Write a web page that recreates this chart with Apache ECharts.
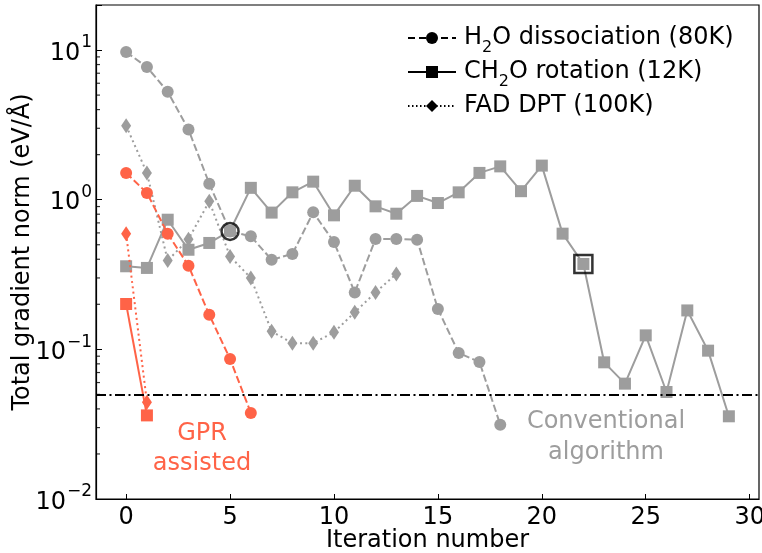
<!DOCTYPE html>
<html>
<head>
<meta charset="utf-8">
<script src="https://cdn.jsdelivr.net/npm/echarts@6/dist/echarts.min.js"></script>
<style>
  html, body { margin: 0; padding: 0; background: #fff; }
  #chart { width: 762px; height: 553px; }
</style>
</head>
<body>
<div id="chart"></div>
<script>
  // values, index = iteration number
  var h2oConv = [9.7, 7.7, 5.27, 2.94, 1.28, 0.614, 0.569, 0.397, 0.434, 0.823, 0.521, 0.24, 0.546, 0.546, 0.54, 0.186, 0.0946, 0.0824, 0.0314];
  var ch2oConv = [0.359, 0.35, 0.735, 0.463, 0.514, 0.62, 1.2, 0.82, 1.12, 1.32, 0.786, 1.24, 0.903, 0.806, 1.06, 0.95, 1.12, 1.51, 1.67, 1.14, 1.69, 0.593, 0.372, 0.0819, 0.059, 0.124, 0.0519, 0.182, 0.098, 0.0357];
  var fadConv = [3.12, 1.51, 0.392, 0.545, 0.975, 0.418, 0.30, 0.132, 0.110, 0.110, 0.130, 0.177, 0.24, 0.319];
  var h2oGpr = [1.51, 1.11, 0.593, 0.362, 0.17, 0.0863, 0.0376];
  var ch2oGpr = [0.201, 0.0362];
  var fadGpr = [0.593, 0.0443];
  var threshold = 0.05;
  var markedH2o = 5;    // iteration ringed on the H2O curve
  var markedCh2o = 22;  // iteration boxed on the CH2O curve

  var xTicks = [0, 5, 10, 15, 20, 25, 30];
  var yTicks = [0.01, 0.1, 1, 10];
  var yMinor = [0.02, 0.03, 0.04, 0.05, 0.06, 0.07, 0.08, 0.09,
                0.2, 0.3, 0.4, 0.5, 0.6, 0.7, 0.8, 0.9,
                2, 3, 4, 5, 6, 7, 8, 9];

  var legendNames = ['H2O dissociation (80K)', 'CH2O rotation (12K)', 'FAD DPT (100K)'];
  var legendRich = ['H{sub|2}O dissociation (80K)', 'CH{sub|2}O rotation (12K)', 'FAD DPT (100K)'];

  var X_MIN = -1.45, X_MAX = 30.45;
  var GRAY = '#9d9d9d';
  var RED = '#ff6347';
  var FONT = 'DejaVu Sans';
  var DASH = [7.4, 3.2];
  var DOT = [2, 3.3];

  function pairs(arr) {
    return arr.map(function (v, i) { return [i, v]; });
  }

  function curve(arr, color, symbol, size, type) {
    return {
      type: 'line',
      data: pairs(arr),
      symbol: symbol,
      symbolSize: size,
      color: color,
      lineStyle: { color: color, width: 2, type: type },
      itemStyle: { color: color },
      silent: true,
      z: color === RED ? 4 : 3
    };
  }

  function legendSeries(name, symbol, type) {
    return {
      type: 'line',
      name: name,
      data: [],
      symbol: symbol,
      color: '#000',
      lineStyle: { color: '#000', width: 1.5, type: type },
      itemStyle: { color: '#000' }
    };
  }

  var chart = echarts.init(document.getElementById('chart'), null, { renderer: 'canvas' });

  var option = {
    animation: false,
    textStyle: { fontFamily: FONT },
    grid: {
      left: 96, right: 3, top: 5, bottom: 54,
      containLabel: false, outerBoundsMode: 'none',
      show: true, borderColor: '#000', borderWidth: 1.2
    },
    legend: {
      data: legendNames,
      orient: 'vertical',
      left: 407,
      top: 24,
      padding: 0,
      itemWidth: 48,
      itemHeight: 15,
      itemGap: 2,
      formatter: function (name) { return legendRich[legendNames.indexOf(name)]; },
      textStyle: {
        fontFamily: FONT, fontSize: 24, color: '#000', lineHeight: 28, padding: [0, 0, 0, 3],
        rich: {
          sub: { fontFamily: FONT, fontSize: 16, lineHeight: 18, verticalAlign: 'bottom', padding: [0, 0, -4, 0] }
        }
      }
    },
    xAxis: {
      type: 'value',
      min: X_MIN,
      max: X_MAX,
      name: 'Iteration number',
      nameLocation: 'middle',
      nameGap: 30,
      nameMoveOverlap: false,
      nameTextStyle: { fontFamily: FONT, fontSize: 24, color: '#000' },
      axisLine: { onZero: false, lineStyle: { color: '#000', width: 1.2 } },
      axisTick: { inside: true, length: 5, lineStyle: { color: '#000' }, customValues: xTicks },
      axisLabel: { fontFamily: FONT, fontSize: 24, color: '#000', margin: 7, customValues: xTicks },
      splitLine: { show: false }
    },
    yAxis: {
      type: 'log',
      logBase: 10,
      min: 0.01,
      max: 20,
      name: 'Total gradient norm (eV/Å)',
      nameLocation: 'middle',
      nameGap: 61,
      nameMoveOverlap: false,
      nameTextStyle: { fontFamily: FONT, fontSize: 24, color: '#000' },
      axisLine: { onZero: false, lineStyle: { color: '#000', width: 1.2 } },
      axisTick: { inside: true, length: 6, lineStyle: { color: '#000' } },
      axisLabel: {
        customValues: yTicks,
        margin: 4,
        formatter: function (v) {
          var e = Math.round(Math.log10(v));
          return '{b|10}{s|' + (e < 0 ? '\u2212' + (-e) : e) + '}';
        },
        rich: {
          b: { fontFamily: FONT, fontSize: 24, color: '#000', lineHeight: 31, verticalAlign: 'bottom' },
          s: { fontFamily: FONT, fontSize: 17, color: '#000', lineHeight: 17, verticalAlign: 'top', padding: [0, 0, 0, 1] }
        }
      },
      splitLine: { show: false }
    },
    graphic: [
      {
        type: 'text', x: 202, y: 449,
        style: { text: 'GPR\nassisted', fill: RED, font: '24px "DejaVu Sans"', align: 'center', verticalAlign: 'middle', lineHeight: 30 }
      },
      {
        type: 'text', x: 606, y: 437,
        style: { text: 'Conventional\nalgorithm', fill: GRAY, font: '24px "DejaVu Sans"', align: 'center', verticalAlign: 'middle', lineHeight: 31 }
      }
    ],
    series: [
      curve(h2oConv, GRAY, 'circle', 12, DASH),
      curve(ch2oConv, GRAY, 'rect', 12, 'solid'),
      curve(fadConv, GRAY, 'diamond', [10, 15], DOT),
      curve(h2oGpr, RED, 'circle', 12, DASH),
      curve(ch2oGpr, RED, 'rect', 12, 'solid'),
      curve(fadGpr, RED, 'diamond', [10, 15], DOT),
      {
        type: 'scatter',
        data: [[markedH2o, h2oConv[markedH2o]]],
        symbol: 'circle',
        symbolSize: 17,
        itemStyle: { color: 'rgba(0,0,0,0)', borderColor: '#000', borderWidth: 2.5 },
        silent: true,
        z: 6
      },
      {
        type: 'scatter',
        data: [[markedCh2o, ch2oConv[markedCh2o]]],
        symbol: 'rect',
        symbolSize: 18,
        itemStyle: { color: 'rgba(0,0,0,0)', borderColor: '#000', borderWidth: 2.5 },
        silent: true,
        z: 6
      },
      {
        // minor log ticks on the left spine, drawn as thin marks
        type: 'scatter',
        data: yMinor.map(function (v) { return [X_MIN, v]; }),
        symbol: 'rect',
        symbolSize: [4, 1.2],
        symbolOffset: [2, 0],
        itemStyle: { color: '#000' },
        clip: false,
        silent: true,
        z: 8
      },
      {
        type: 'line',
        data: [],
        silent: true,
        z: 7,
        markLine: {
          silent: true,
          symbol: 'none',
          label: { show: false },
          lineStyle: { color: '#000', width: 2, type: [10, 3.5, 2, 3.5] },
          data: [{ yAxis: threshold }]
        }
      },
      legendSeries(legendNames[0], 'circle', [7, 4]),
      legendSeries(legendNames[1], 'rect', 'solid'),
      legendSeries(legendNames[2], 'diamond', [1.5, 2.5])
    ]
  };

  chart.setOption(option);
</script>
</body>
</html>
